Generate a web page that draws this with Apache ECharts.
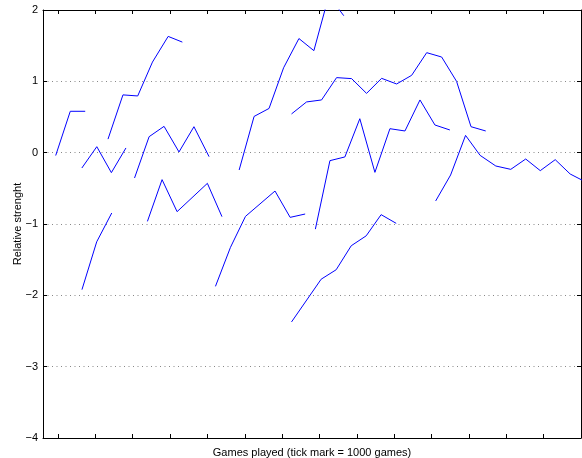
<!DOCTYPE html>
<html>
<head>
<meta charset="utf-8">
<script src="https://cdn.jsdelivr.net/npm/echarts@6/dist/echarts.min.js"></script>
<style>html,body{margin:0;padding:0;background:#fff}#c{width:582px;height:458px}</style>
</head>
<body>
<div id="c"></div>
<script>
// x in thousands of games (tick mark = 1000 games), y = relative strength
const xTicks = [0,1,2,3,4,5,6,7,8,9,10,11,12,13,14];
const yTicks = [-4,-3,-2,-1,0,1,2];
const seg1 = [[-0.06,-0.04],[0.33,0.58],[0.73,0.58]];
const seg2 = [[0.64,-0.215],[1.04,0.084],[1.43,-0.28],[1.82,0.066]];
const seg3 = [[1.34,0.19],[1.74,0.81],[2.135,0.795],[2.53,1.27],[2.95,1.63],[3.33,1.55]];
const seg4 = [[2.05,-0.355],[2.44,0.224],[2.84,0.369],[3.24,0.01],[3.64,0.364],[4.045,-0.056]];
const seg5 = [[2.395,-0.963],[2.787,-0.378],[3.189,-0.827],[4.0,-0.43],[4.39,-0.897]];
const seg6 = [[0.643,-1.92],[1.037,-1.25],[1.44,-0.846]];
const seg7 = [[4.85,-0.243],[5.25,0.508],[5.65,0.62],[6.04,1.19],[6.45,1.60],[6.85,1.43],[7.25,2.2],[7.65,1.92]];
const seg8 = [[4.216,-1.874],[4.618,-1.327],[5.02,-0.893],[5.81,-0.538],[6.215,-0.907],[6.617,-0.86]];
const seg9 = [[6.252,-2.373],[7.045,-1.774],[7.447,-1.641],[7.85,-1.305],[8.25,-1.166],[8.65,-0.869],[9.054,-0.991]];
const seg10 = [[6.89,-1.072],[7.28,-0.112],[7.68,-0.06],[8.08,0.476],[8.484,-0.276],[8.886,0.336],[9.288,0.304],[9.69,0.739],[10.09,0.388],[10.49,0.318]];
const seg11 = [[6.252,0.543],[6.654,0.711],[7.056,0.739],[7.458,1.052],[7.86,1.038],[8.26,0.831],[8.663,1.042],[9.065,0.963],[9.467,1.084],[9.87,1.402],[10.27,1.341],[10.67,0.999],[11.056,0.364],[11.45,0.304]];
const seg12 = [[10.11,-0.677],[10.51,-0.313],[10.91,0.242],[11.30,-0.038],[11.72,-0.187],[12.12,-0.234],[12.52,-0.089],[12.91,-0.252],[13.31,-0.098],[13.71,-0.299],[14.11,-0.407]];
const segments = [seg1,seg2,seg3,seg4,seg5,seg6,seg7,seg8,seg9,seg10,seg11,seg12];

const font = 'Liberation Sans, Arial, Helvetica, sans-serif';
const chart = echarts.init(document.getElementById('c'), null, {renderer:'canvas'});
const axisLine = {show:true, onZero:false, lineStyle:{color:'#000', width:1}};
chart.setOption({
  animation:false,
  grid:{left:43, right:1, top:10, bottom:20, containLabel:false, outerBoundsMode:'none'},
  xAxis:[
    {type:'value', position:'bottom', min:-0.4, max:14,
     name:'Games played (tick mark = 1000 games)', nameLocation:'middle', nameGap:9,
     nameMoveOverlap:false,
     nameTextStyle:{fontFamily:font, fontSize:11, color:'#000'},
     axisLine:axisLine,
     axisTick:{show:true, inside:true, length:4, customValues:xTicks, lineStyle:{color:'#000'}},
     axisLabel:{show:false}, splitLine:{show:false}},
    {type:'value', position:'top', min:-0.4, max:14,
     axisLine:axisLine,
     axisTick:{show:true, inside:true, length:4, customValues:xTicks, lineStyle:{color:'#000'}},
     axisLabel:{show:false}, splitLine:{show:false}}
  ],
  yAxis:[
    {type:'value', position:'left', min:yTicks[0], max:yTicks[yTicks.length-1], interval:1,
     name:'Relative strenght', nameLocation:'middle', nameGap:20, nameRotate:90,
     nameMoveOverlap:false,
     nameTextStyle:{fontFamily:font, fontSize:11, color:'#000'},
     axisLine:axisLine,
     axisTick:{show:true, inside:true, length:4, lineStyle:{color:'#000'}},
     axisLabel:{fontFamily:font, fontSize:11, color:'#000', margin:5,
       formatter:v=>String(v).replace('-','\u2212')},
     splitLine:{show:true, lineStyle:{color:'#888', width:1, type:[1,3.5]}}},
    {type:'value', position:'right', min:yTicks[0], max:yTicks[yTicks.length-1], interval:1,
     axisLine:axisLine,
     axisTick:{show:true, inside:true, length:4, lineStyle:{color:'#000'}},
     axisLabel:{show:false}, splitLine:{show:false}}
  ],
  series: segments.map(s=>({type:'line', data:s, xAxisIndex:0, yAxisIndex:0,
    symbol:'none', clip:true, lineStyle:{color:'#0000ff', width:1}, silent:true}))
});
</script>
</body>
</html>
